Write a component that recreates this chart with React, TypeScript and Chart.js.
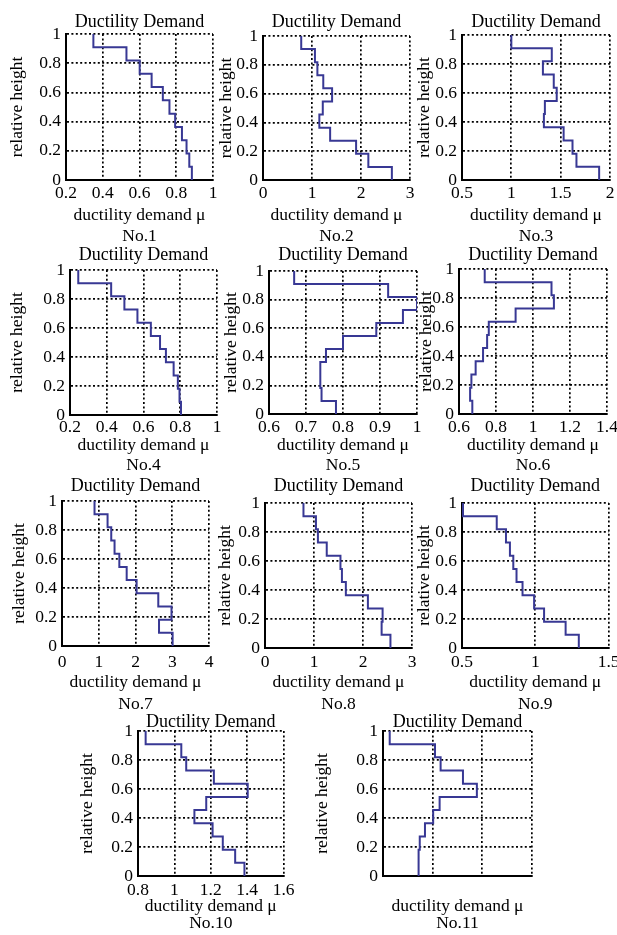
import React, { useEffect, useRef } from "react";
import { Chart, registerables } from "chart.js";

Chart.register(...registerables);

// ---------- data ----------
const storyLevels = [0, 0.0909, 0.1818, 0.2727, 0.3636, 0.4545, 0.5455, 0.6364, 0.7273, 0.8182, 0.9091, 1];
const yTicks = [0, 0.2, 0.4, 0.6, 0.8, 1];

const panelLabels = ["No.1", "No.2", "No.3", "No.4", "No.5", "No.6", "No.7", "No.8", "No.9", "No.10", "No.11"];

// ductility demand per story, from story 1 (bottom) to story 11 (top)
const mu1 = [0.885, 0.871, 0.856, 0.831, 0.794, 0.763, 0.727, 0.666, 0.601, 0.529, 0.349];
const mu2 = [2.63, 2.15, 1.9, 1.37, 1.15, 1.22, 1.41, 1.23, 1.11, 1.06, 0.78];
const mu3 = [1.89, 1.66, 1.62, 1.53, 1.33, 1.34, 1.46, 1.43, 1.32, 1.41, 1.0];
const mu4 = [0.804, 0.796, 0.787, 0.764, 0.722, 0.69, 0.64, 0.567, 0.496, 0.424, 0.245];
const mu5 = [0.781, 0.742, 0.74, 0.738, 0.754, 0.8, 0.89, 0.962, 1.0, 0.922, 0.668];
const mu6 = [0.672, 0.66, 0.667, 0.69, 0.73, 0.752, 0.761, 0.906, 1.113, 1.1, 0.739];
const mu7 = [3.01, 2.64, 2.98, 2.62, 2.03, 1.76, 1.56, 1.43, 1.34, 1.24, 0.885];
const mu8 = [2.56, 2.38, 2.4, 2.1, 1.65, 1.57, 1.54, 1.26, 1.08, 1.04, 0.785];
const mu9 = [1.297, 1.207, 1.06, 0.992, 0.913, 0.872, 0.85, 0.827, 0.8, 0.737, 0.507];
const mu10 = [1.385, 1.334, 1.266, 1.21, 1.11, 1.175, 1.403, 1.217, 1.065, 1.038, 0.842];
const mu11 = [0.71, 0.72, 0.74, 0.845, 1.01, 1.14, 1.89, 1.61, 1.16, 1.047, 0.135];

const xTicks1 = [0.2, 0.4, 0.6, 0.8, 1];
const xTicks2 = [0, 1, 2, 3];
const xTicks3 = [0.5, 1, 1.5, 2];
const xTicks4 = [0.2, 0.4, 0.6, 0.8, 1];
const xTicks5 = [0.6, 0.7, 0.8, 0.9, 1];
const xTicks6 = [0.6, 0.8, 1, 1.2, 1.4];
const xTicks7 = [0, 1, 2, 3, 4];
const xTicks8 = [0, 1, 2, 3];
const xTicks9 = [0.5, 1, 1.5];
const xTicks10 = [0.8, 1, 1.2, 1.4, 1.6];
const xTicks11 = [0, 1, 2, 3];

const panelTitle = "Ductility Demand";
const xAxisTitle = "ductility demand \u03bc";
const yAxisTitle = "relative height";

const panelValues = [mu1, mu2, mu3, mu4, mu5, mu6, mu7, mu8, mu9, mu10, mu11];
const panelXTicks = [xTicks1, xTicks2, xTicks3, xTicks4, xTicks5, xTicks6, xTicks7, xTicks8, xTicks9, xTicks10, xTicks11];
const panelShowXLabels = [true, true, true, true, true, true, true, true, true, true, false];

// ---------- layout / style ----------
const FONT = "'Liberation Serif', 'Times New Roman', serif";
const FONT_SIZE = 17.5;
const TITLE_SIZE = 18;
const LINE_COLOR = "#383894";
const TOP_H = 34;
const RIGHT_PAD = 14;
const LH = 21;

// plot area of each panel: left, top, right, bottom, y-title gap from plot left
const frames = [
  { L: 66, T: 34, R: 213, B: 180, gap: 48, row: 0 },
  { L: 263, T: 36, R: 410, B: 180, gap: 36, row: 0 },
  { L: 462, T: 35, R: 610, B: 180, gap: 37, row: 0 },
  { L: 70, T: 270, R: 217, B: 415, gap: 52, row: 1 },
  { L: 269, T: 271, R: 417, B: 414, gap: 37, row: 1 },
  { L: 459, T: 269, R: 607, B: 414, gap: 32, row: 1 },
  { L: 62, T: 501, R: 209, B: 646, gap: 42, row: 2 },
  { L: 265, T: 503, R: 412, B: 648, gap: 39, row: 2 },
  { L: 462, T: 503, R: 609, B: 648, gap: 37, row: 2 },
  { L: 138, T: 731, R: 284, B: 876, gap: 50, row: 3 },
  { L: 383, T: 731, R: 532, B: 876, gap: 60, row: 3 },
];

// absolute y-centres of text per row
const rowText = [
  { title: 22, ticks: 193, line1: 215, line2: 236 },
  { title: 255, ticks: 427, line1: 445, line2: 465 },
  { title: 486, ticks: 662, line1: 682, line2: 704 },
  { title: 722, ticks: 890, line1: 906, line2: 923 },
];

function Panel({ index }: { index: number }) {
  const ref = useRef<HTMLCanvasElement | null>(null);
  const f = frames[index];
  const rt = rowText[f.row];
  const yw = Math.round(f.gap + LH / 2);
  const xlh = rt.line2 - rt.line1;
  const hx = Math.round(rt.line2 - f.B + xlh / 2);
  const left = f.L - yw;
  const top = f.T - TOP_H;
  const width = yw + (f.R - f.L) + RIGHT_PAD;
  const height = f.B - f.T + TOP_H + hx;

  useEffect(() => {
    const values = panelValues[index];
    const ticks = panelXTicks[index];
    const showX = panelShowXLabels[index];
    const pts: { x: number; y: number }[] = [];
    values.forEach((v, i) => {
      pts.push({ x: v, y: storyLevels[i] });
      pts.push({ x: v, y: storyLevels[i + 1] });
    });
    const font = { family: FONT, size: FONT_SIZE, lineHeight: LH + "px" };
    const gridOpts = { color: "#000", lineWidth: 1.7, drawTicks: false };
    const borderOpts = { display: true, color: "#000", width: 2, dash: [2, 2.4] };
    const chart = new Chart(ref.current as HTMLCanvasElement, {
      type: "scatter",
      data: {
        datasets: [
          {
            data: pts,
            xAxisID: "x",
            yAxisID: "y",
            showLine: true,
            borderColor: LINE_COLOR,
            backgroundColor: LINE_COLOR,
            borderWidth: 2,
            pointRadius: 0,
            tension: 0,
            fill: false,
          },
        ],
      },
      options: {
        animation: false,
        responsive: false,
        maintainAspectRatio: false,
        devicePixelRatio: 1,
        events: [],
        layout: { padding: { left: 0, top: 0, right: RIGHT_PAD, bottom: 0 } },
        plugins: { legend: { display: false }, tooltip: { enabled: false }, title: { display: false } },
        scales: {
          x: {
            type: "linear",
            axis: "x",
            position: "bottom",
            min: ticks[0],
            max: ticks[ticks.length - 1],
            afterBuildTicks: (s: any) => {
              s.ticks = ticks.map((v) => ({ value: v }));
            },
            afterFit: (s: any) => {
              s.height = hx;
            },
            grid: gridOpts,
            border: borderOpts,
            ticks: {
              color: showX ? "#000" : "rgba(0,0,0,0)",
              font,
              padding: rt.ticks - f.B - LH / 2,
              maxRotation: 0,
              autoSkip: false,
              callback: (v: any) => String(v),
            },
            title: {
              display: true,
              text: [xAxisTitle, panelLabels[index]],
              color: "#000",
              font: { family: FONT, size: FONT_SIZE, lineHeight: xlh + "px" },
              padding: 0,
            },
          },
          y: {
            type: "linear",
            axis: "y",
            position: "left",
            min: 0,
            max: 1,
            afterBuildTicks: (s: any) => {
              s.ticks = yTicks.map((v) => ({ value: v }));
            },
            afterFit: (s: any) => {
              s.width = yw;
            },
            grid: gridOpts,
            border: borderOpts,
            ticks: {
              color: "#000",
              font,
              padding: 5,
              autoSkip: false,
              callback: (v: any) => String(v),
            },
            title: {
              display: true,
              text: yAxisTitle,
              color: "#000",
              font,
              padding: 0,
            },
          },
          xTop: {
            type: "linear",
            axis: "x",
            position: "top",
            min: 0,
            max: 1,
            afterFit: (s: any) => {
              s.height = TOP_H;
            },
            grid: { display: false, drawTicks: false },
            border: { display: false },
            ticks: { display: false },
            title: {
              display: true,
              text: panelTitle,
              color: "#000",
              font: { family: FONT, size: TITLE_SIZE, lineHeight: LH + "px" },
              padding: { top: rt.title - top - LH / 2, bottom: 0 },
            },
          },
        },
      } as any,
    });
    return () => chart.destroy();
  }, []);

  return (
    <canvas
      ref={ref}
      width={width}
      height={height}
      style={{ position: "absolute", left, top, width, height }}
    />
  );
}

export default function App() {
  return (
    <div
      style={{
        position: "absolute",
        left: 0,
        top: 0,
        width: 617,
        height: 935,
        background: "#fff",
        overflow: "hidden",
      }}
    >
      {frames.map((_, i) => (
        <Panel key={i} index={i} />
      ))}
    </div>
  );
}
